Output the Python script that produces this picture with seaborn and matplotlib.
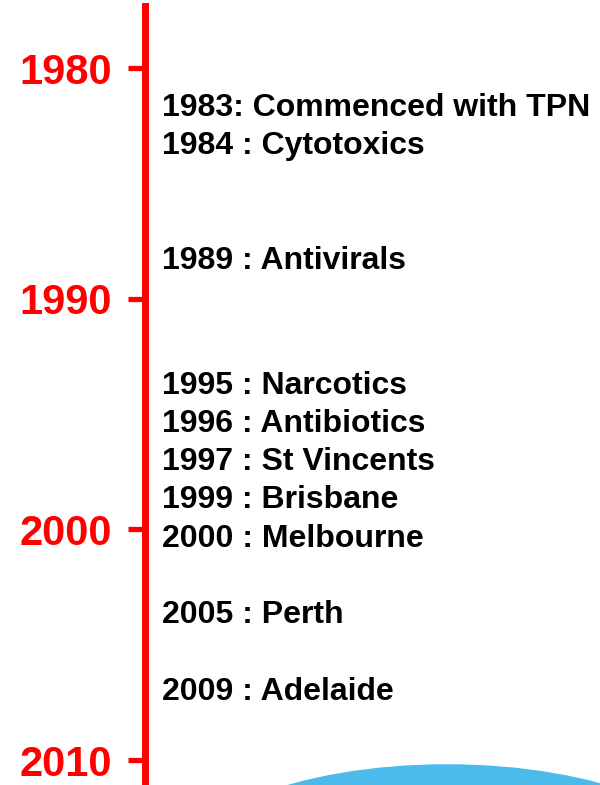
import matplotlib
matplotlib.use("Agg")
import matplotlib.pyplot as plt
from matplotlib.patches import Ellipse
import seaborn as sns

# timeline ticks (decades)
decades = [1980, 1990, 2000, 2010]

# events as listed on the slide, with the row position (in years) where each is drawn
event_labels = [
    "1983: Commenced with TPN",
    "1984 : Cytotoxics",
    "1989 : Antivirals",
    "1995 : Narcotics",
    "1996 : Antibiotics",
    "1997 : St Vincents",
    "1999 : Brisbane",
    "2000 : Melbourne",
    "2005 : Perth",
    "2009 : Adelaide",
]
event_rows = [1981.73, 1983.38, 1988.37, 1993.78, 1995.43, 1997.08, 1998.73, 2000.42, 2003.71, 2007.05]

sns.set_theme(style="white")
plt.rcParams["font.family"] = ["Liberation Sans", "DejaVu Sans"]

fig = plt.figure(figsize=(6, 7.85), dpi=100)
# axes whose left spine is the red timeline
ax = fig.add_axes([145 / 600, 0, 455 / 600, 779 / 785])
ax.set_xlim(0, 455)
ax.set_ylim(2011.08, 1977.31)

sns.despine(ax=ax, top=True, right=True, bottom=True, left=False)
ax.spines["left"].set_color("#ff0000")
ax.spines["left"].set_linewidth(5.0)
ax.spines["left"].set_zorder(5)

ax.set_yticks(decades)
ax.set_yticklabels([str(d) for d in decades], color="#ff0000",
                   fontsize=30, fontweight="bold")
ax.tick_params(axis="y", which="major", direction="out", length=12.2, width=3.8,
               color="#ff0000", pad=11.5, left=True)
ax.set_xticks([])

for label, row in zip(event_labels, event_rows):
    ax.text(17, row, label, fontsize=23, fontweight="bold", color="black",
            va="center", ha="left")

# light-blue shape peeking in at the bottom right
blob = Ellipse((302, 2011.08 + 4.03), width=553, height=9.8, color="#4bbbeb",
               zorder=1, clip_on=True)
ax.add_patch(blob)

fig.savefig("out.png", dpi=100)
plt.close(fig)
